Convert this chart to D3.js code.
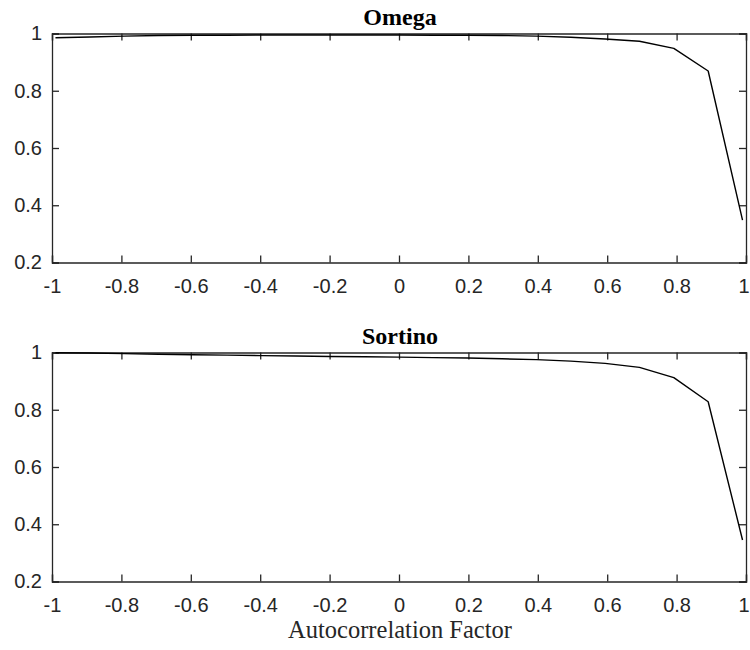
<!DOCTYPE html>
<html>
<head>
<meta charset="utf-8">
<script src="https://cdn.jsdelivr.net/npm/d3@7"></script>
<style>
  html, body { margin: 0; padding: 0; background: #fff; }
  svg { display: block; }
</style>
</head>
<body>
<svg id="chart" width="750" height="650"></svg>
<script>
// ---- data ----
const xValues = [-0.99, -0.891, -0.792, -0.693, -0.594, -0.495, -0.396, -0.297, -0.198, -0.099, 0,
                 0.099, 0.198, 0.297, 0.396, 0.495, 0.594, 0.693, 0.792, 0.891, 0.99];
const omegaValues = [0.985, 0.988, 0.991, 0.993, 0.994, 0.994, 0.995, 0.995, 0.995, 0.995, 0.995,
                     0.994, 0.994, 0.993, 0.991, 0.987, 0.981, 0.973, 0.948, 0.869, 0.348];
const sortinoValues = [0.999, 0.998, 0.996, 0.994, 0.992, 0.991, 0.989, 0.988, 0.986, 0.985, 0.984,
                       0.982, 0.981, 0.978, 0.975, 0.970, 0.962, 0.948, 0.912, 0.828, 0.345];
const xTicks = [-1, -0.8, -0.6, -0.4, -0.2, 0, 0.2, 0.4, 0.6, 0.8, 1];
const yTicks = [0.2, 0.4, 0.6, 0.8, 1];
const titles = ["Omega", "Sortino"];
const xLabel = "Autocorrelation Factor";

const panels = [
  { title: titles[0], values: omegaValues, top: 33.5 },
  { title: titles[1], values: sortinoValues, top: 352.5 }
];

const svg = d3.select("#chart");
const left = 52, right = 746, plotH = 229;
const axisColor = "#262626";
const tickLen = 7;
const fmt = d => (d === 0 ? "0" : String(d));

const x = d3.scaleLinear().domain([-1, 1]).range([left, right]);

panels.forEach(p => {
  const y = d3.scaleLinear().domain([0.2, 1]).range([p.top + plotH, p.top]);
  const g = svg.append("g");

  const bottom = g.append("g").attr("transform", `translate(0,${p.top + plotH})`)
    .call(d3.axisBottom(x).tickValues(xTicks).tickSize(-tickLen).tickPadding(16).tickFormat(fmt));
  const top = g.append("g").attr("transform", `translate(0,${p.top})`)
    .call(d3.axisTop(x).tickValues(xTicks).tickSize(-tickLen).tickFormat(""));
  const leftAx = g.append("g").attr("transform", `translate(${left},0)`)
    .call(d3.axisLeft(y).tickValues(yTicks).tickSize(-tickLen).tickPadding(10).tickFormat(fmt));
  const rightAx = g.append("g").attr("transform", `translate(${right},0)`)
    .call(d3.axisRight(y).tickValues(yTicks).tickSize(-tickLen).tickFormat(""));

  [bottom, top, leftAx, rightAx].forEach(a => {
    a.select(".domain").attr("stroke", axisColor).attr("stroke-width", 1.3);
    a.selectAll(".tick line").attr("stroke", axisColor).attr("stroke-width", 1.3);
    a.selectAll(".tick text").attr("fill", axisColor)
      .style("font-family", "'Liberation Sans', Arial, Helvetica, sans-serif")
      .style("font-size", "20px");
  });

  // keep the last x label ("1") inside the picture, as in the reference
  bottom.selectAll(".tick text").filter(d => d === 1)
    .attr("text-anchor", "end").attr("x", 3);

  const line = d3.line().x((d, i) => x(xValues[i])).y(d => y(d));
  g.append("path").datum(p.values)
    .attr("d", line)
    .attr("fill", "none")
    .attr("stroke", "#000")
    .attr("stroke-width", 1.4)
    .attr("stroke-linejoin", "round");

  g.append("text")
    .attr("x", (left + right) / 2 + 1)
    .attr("y", p.top - 8.5)
    .attr("text-anchor", "middle")
    .style("font-family", "'Liberation Serif', 'Times New Roman', serif")
    .style("font-weight", "bold")
    .style("font-size", "24px")
    .attr("fill", "#000")
    .text(p.title);
});

svg.append("text")
  .attr("x", (left + right) / 2 + 1)
  .attr("y", 638)
  .attr("text-anchor", "middle")
  .style("font-family", "'Liberation Serif', 'Times New Roman', serif")
  .style("font-size", "24.5px")
  .attr("fill", "#262626")
  .text(xLabel);
</script>
</body>
</html>
